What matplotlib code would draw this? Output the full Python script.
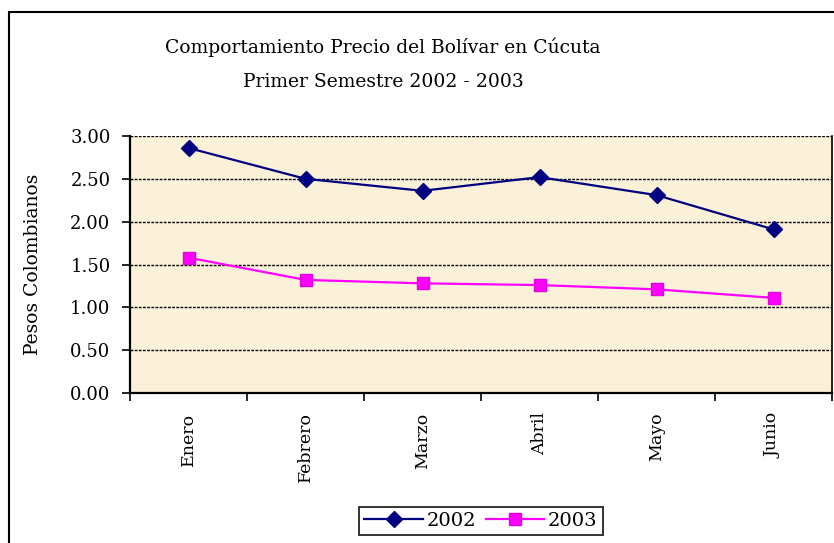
import matplotlib.pyplot as plt
from matplotlib.patches import Rectangle

meses = ['Enero', 'Febrero', 'Marzo', 'Abril', 'Mayo', 'Junio']
precio_2002 = [2.86, 2.50, 2.36, 2.52, 2.31, 1.91]
precio_2003 = [1.58, 1.32, 1.28, 1.26, 1.21, 1.11]
y_ticks = [0.0, 0.5, 1.0, 1.5, 2.0, 2.5, 3.0]

plt.rcParams['font.family'] = 'DejaVu Serif'

fig = plt.figure(figsize=(8.34, 5.43), dpi=100)
ax = fig.add_axes([130 / 834, 150 / 543, 702 / 834, 257 / 543])

# Outer chart border
fig.patches.append(Rectangle((9 / 834, -0.05), 1.0, 1 - 12 / 543 + 0.05,
                             transform=fig.transFigure, fill=False,
                             edgecolor='black', linewidth=1.5))

x = range(len(meses))
ax.set_facecolor('#FBF0D8')
ax.plot(x, precio_2002, color='#000080', marker='D', markersize=8,
        linewidth=1.6, label='2002')
ax.plot(x, precio_2003, color='#FF00FF', marker='s', markersize=8,
        markeredgecolor='#E000E0', linewidth=1.6, label='2003')

ax.set_xlim(-0.5, len(meses) - 0.5)
ax.set_ylim(0, 3)
ax.set_yticks(y_ticks)
ax.set_yticklabels([f'{v:.2f}' for v in y_ticks], fontsize=13)
for v in y_ticks[1:]:
    ax.axhline(v, color='black', linestyle=(0, (2, 1)), linewidth=1.0, zorder=1)

ax.set_xticks([i - 0.5 for i in range(len(meses) + 1)])
ax.set_xticklabels([])
ax.set_xticks(list(x), minor=True)
ax.set_xticklabels(meses, minor=True, rotation=90, fontsize=12.5)
ax.tick_params(axis='x', which='minor', length=0, pad=14)
ax.tick_params(axis='both', which='major', direction='out', length=6,
               width=1.2, color='black')
ax.tick_params(axis='y', which='major', pad=8)

ax.spines['top'].set_visible(False)
for side in ['left', 'bottom']:
    ax.spines[side].set_linewidth(1.6)
ax.spines['right'].set_linewidth(1.2)

ax.set_ylabel('Pesos Colombianos', fontsize=13.5, labelpad=20)
fig.text(383 / 834, 1 - 47 / 543, 'Comportamiento Precio del Bolívar en Cúcuta',
         ha='center', va='center', fontsize=13.5)
fig.text(383 / 834, 1 - 82 / 543, 'Primer Semestre 2002 - 2003',
         ha='center', va='center', fontsize=13.5)

leg = fig.legend(loc='center', bbox_to_anchor=(481 / 834, 1 - 521 / 543),
                 ncol=2, fontsize=14, frameon=True, fancybox=False,
                 handlelength=3.0, handletextpad=0.2, columnspacing=0.5,
                 borderpad=0.25, borderaxespad=0)
leg.get_frame().set_edgecolor('black')
leg.get_frame().set_linewidth(1.4)

plt.savefig('out.png', dpi=100)
